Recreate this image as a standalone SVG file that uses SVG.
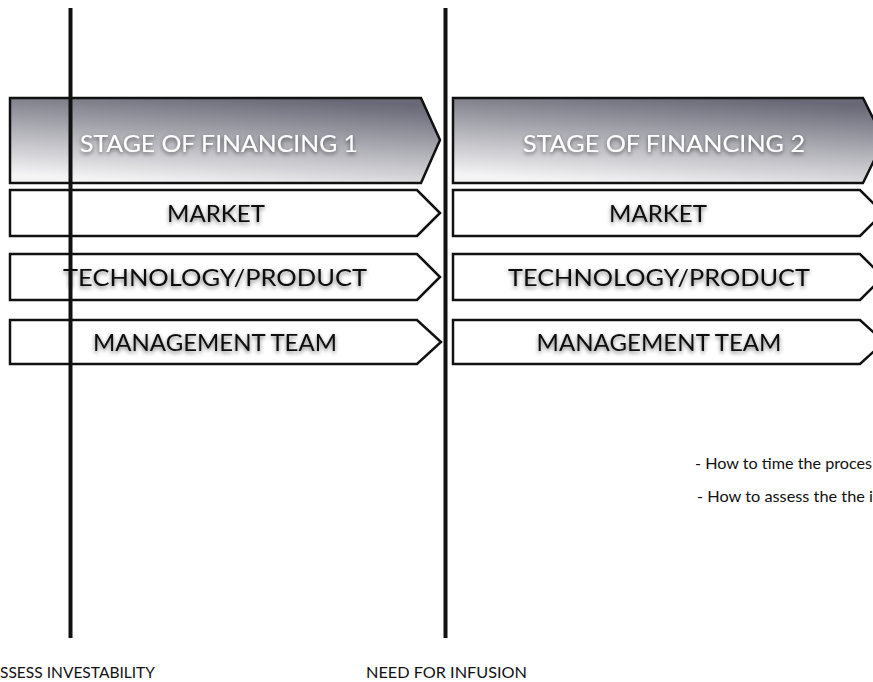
<svg xmlns="http://www.w3.org/2000/svg" width="873" height="682" viewBox="0 0 873 682">
<defs>
<linearGradient id="stageGrad" x1="0.35" y1="1" x2="0.65" y2="0">
<stop offset="0" stop-color="#f4f4f5"/>
<stop offset="1" stop-color="#686876"/>
</linearGradient>
<filter id="shadowDark" x="-10%" y="-40%" width="120%" height="180%">
<feGaussianBlur in="SourceAlpha" stdDeviation="2"/>
<feOffset dx="0" dy="2" result="b"/>
<feComponentTransfer><feFuncA type="linear" slope="0.55"/></feComponentTransfer>
<feMerge><feMergeNode/><feMergeNode in="SourceGraphic"/></feMerge>
</filter>
</defs>
<style>
.box{fill:#ffffff;stroke:#111111;stroke-width:2.5;stroke-linejoin:miter}
.stage{fill:url(#stageGrad);stroke:#111111;stroke-width:2.5}
.lbl{font-family:Lato,"Open Sans","Liberation Sans",sans-serif;font-size:23px;fill:#111111;text-anchor:middle;filter:url(#shadowDark)}
.lblw{font-family:Lato,"Open Sans","Liberation Sans",sans-serif;font-size:23px;fill:#ffffff;text-anchor:middle;filter:url(#shadowDark)}
.note{font-family:Lato,"Open Sans","Liberation Sans",sans-serif;font-size:16px;fill:#111111}
.vline{stroke:#111111;stroke-width:4}
</style>
<rect width="873" height="682" fill="#ffffff"/>

<g id="stage1">
<path class="stage" d="M10 98 H421 L440 140 L421 183 H10 Z"/>
<text class="lblw" x="219" y="152" textLength="278" lengthAdjust="spacingAndGlyphs">STAGE OF FINANCING 1</text>
</g>
<g id="market1">
<path class="box" d="M10 190 H417 L440 213 L417 236 H10 Z"/>
<text class="lbl" x="216" y="222" textLength="98" lengthAdjust="spacingAndGlyphs">MARKET</text>
</g>
<g id="tech1">
<path class="box" d="M10 254 H417 L440 277 L417 300 H10 Z"/>
<text class="lbl" x="215" y="286" textLength="304" lengthAdjust="spacingAndGlyphs">TECHNOLOGY/PRODUCT</text>
</g>
<g id="mgmt1">
<path class="box" d="M10 320 H417 L441 342 L417 364 H10 Z"/>
<text class="lbl" x="215" y="351" textLength="244" lengthAdjust="spacingAndGlyphs">MANAGEMENT TEAM</text>
</g>

<g id="stage2">
<path class="stage" d="M453 98 H863 L884 140 L863 183 H453 Z"/>
<text class="lblw" x="664" y="152" textLength="282" lengthAdjust="spacingAndGlyphs">STAGE OF FINANCING 2</text>
</g>
<g id="market2">
<path class="box" d="M453 190 H860 L883 213 L860 236 H453 Z"/>
<text class="lbl" x="658" y="222" textLength="98" lengthAdjust="spacingAndGlyphs">MARKET</text>
</g>
<g id="tech2">
<path class="box" d="M453 254 H860 L883 277 L860 300 H453 Z"/>
<text class="lbl" x="659" y="286" textLength="302" lengthAdjust="spacingAndGlyphs">TECHNOLOGY/PRODUCT</text>
</g>
<g id="mgmt2">
<path class="box" d="M453 320 H860 L884 342 L860 364 H453 Z"/>
<text class="lbl" x="659" y="351" textLength="245" lengthAdjust="spacingAndGlyphs">MANAGEMENT TEAM</text>
</g>

<g id="connectors">
<line class="vline" x1="70.5" y1="8" x2="70.5" y2="638"/>
<line class="vline" x1="445.5" y1="8" x2="445.5" y2="638"/>
</g>

<g id="notes">
<text class="note" x="695" y="469" textLength="177" lengthAdjust="spacingAndGlyphs">- How to time the proces</text>
<text class="note" x="697" y="502" textLength="176" lengthAdjust="spacingAndGlyphs">- How to assess the the i</text>
<text class="note" x="0" y="678" textLength="155" lengthAdjust="spacingAndGlyphs">SSESS INVESTABILITY</text>
<text class="note" x="366" y="678" textLength="161" lengthAdjust="spacingAndGlyphs">NEED FOR INFUSION</text>
</g>
</svg>
